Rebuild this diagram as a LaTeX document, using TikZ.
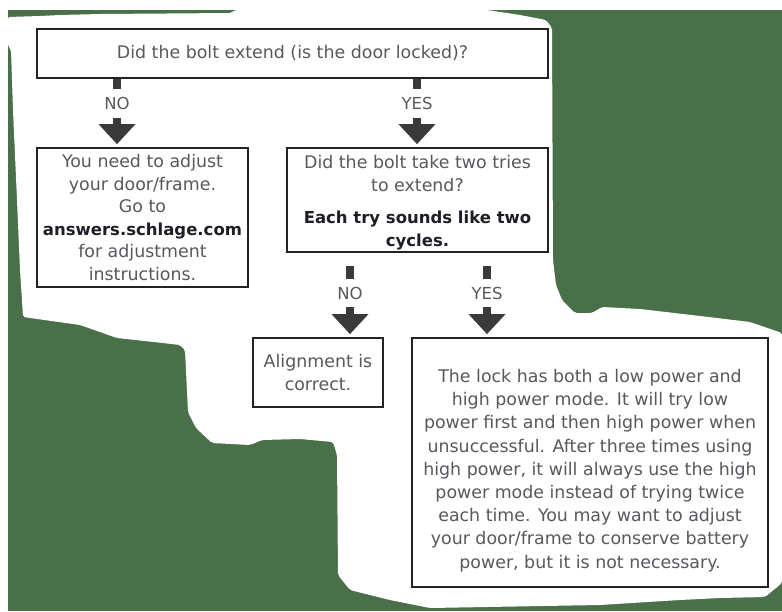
\documentclass[tikz,border=0pt]{standalone}
\usepackage{fontspec}
\setmainfont{DejaVu Sans}
\definecolor{bggreen}{RGB}{74,112,74}
\definecolor{txtgray}{RGB}{88,88,94}
\definecolor{darktxt}{RGB}{30,30,38}
\definecolor{arrowgray}{RGB}{58,58,58}
\definecolor{boxline}{RGB}{35,35,35}
\newcommand{\boldline}[1]{{\fontsize{16.5}{22.5}\selectfont\color{darktxt}\bfseries #1}}
\begin{document}
\begin{tikzpicture}[x=1pt,y=-1pt,
  box/.style={draw=boxline, line width=1.8pt, fill=white, align=center, inner sep=0pt,
    text=txtgray, font=\fontsize{17.4}{22.5}\selectfont},
  lbl/.style={text=txtgray, font=\fontsize{16.5}{16}\selectfont, inner sep=0pt},
  stem/.style={draw=arrowgray, line width=7.5pt},
  head/.style={fill=arrowgray, draw=none}]
\useasboundingbox (0,0) rectangle (782,611);
% background
\fill[white] (0,0) rectangle (782,611);
\fill[bggreen] (8,10) rectangle (782,611);
\fill[white, rounded corners=2pt] (8,17) -- (40,16) -- (60,15) -- (100,14) -- (232,13) -- (234,10)
  -- (487,10) -- (520,15) -- (546,20) -- (552,28) -- (553,260) -- (556,285) -- (562,300)
  -- (575,313) -- (592,313) -- (602,307) -- (640,309) -- (700,316) -- (750,322) -- (782,333)
  -- (782,583) -- (765,597) -- (720,598) -- (680,600) -- (600,605) -- (430,608) -- (390,600)
  -- (350,590) -- (338,575) -- (337,455) -- (333,442) -- (300,439) -- (262,440) -- (250,445)
  -- (212,443) -- (196,428) -- (188,412) -- (185,350) -- (180,345) -- (163,343) -- (117,338)
  -- (80,325) -- (23,317) -- (22,300) -- (20,270) -- (17,200) -- (13,110) -- (11,50) -- (8,46) -- cycle;

% boxes
\node[box, minimum width=511pt, minimum height=49pt] (q1) at (292.5,53.5)
  {Did the bolt extend (is the door locked)?};
\node[box, minimum width=211pt, minimum height=139pt] (adj) at (142.5,217.5)
  {You need to adjust\\your door/frame.\\Go to\\\boldline{answers.schlage.com}\\for adjustment\\instructions.};
\node[box, minimum width=261pt, minimum height=104pt] (q2) at (417.5,200)
  {\parbox{255pt}{\centering\vspace*{5pt}Did the bolt take two tries\\to extend?\\[10pt]\boldline{Each try sounds like two}\\\boldline{cycles.}}};
\node[box, minimum width=130pt, minimum height=69pt] (ok) at (318,372.5)
  {Alignment is\\correct.};
\node[box, minimum width=356pt, minimum height=249pt] (info) at (590,462.5)
  {\parbox{350pt}{\centering\fontsize{17.4}{23.2}\selectfont\vspace*{16pt}%
  The lock has both a low power and\\high power mode. It will try low\\power first and then high power when\\unsuccessful. After three times using\\high power, it will always use the high\\power mode instead of trying twice\\each time. You may want to adjust\\your door/frame to conserve battery\\power, but it is not necessary.}};

% labels
\node[lbl] (no1) at (117,103) {NO};
\node[lbl] (yes1) at (417,103) {YES};
\node[lbl] (no2) at (350,293) {NO};
\node[lbl] (yes2) at (487,293) {YES};

% connectors: q1 -> adj (NO)
\coordinate (a1s) at (q1.south -| no1);
\coordinate (a1t) at (adj.north -| no1);
\draw[stem] (a1s) -- ([yshift=-10pt]a1s);
\draw[stem] ([yshift=-9pt]no1.south) -- ([yshift=22pt]a1t);
\fill[head] ([shift={(-18.5pt,23pt)}]a1t) -- ([shift={(18.5pt,23pt)}]a1t) -- ([yshift=3pt]a1t) -- cycle;

% q1 -> q2 (YES)
\coordinate (a2s) at (q1.south -| yes1);
\coordinate (a2t) at (q2.north -| yes1);
\draw[stem] (a2s) -- ([yshift=-10pt]a2s);
\draw[stem] ([yshift=-9pt]yes1.south) -- ([yshift=22pt]a2t);
\fill[head] ([shift={(-18.5pt,23pt)}]a2t) -- ([shift={(18.5pt,23pt)}]a2t) -- ([yshift=3pt]a2t) -- cycle;

% q2 -> ok (NO)
\coordinate (a3s) at (q2.south -| no2);
\coordinate (a3t) at (ok.north -| no2);
\draw[stem] ([yshift=-13pt]a3s) -- ([yshift=-26pt]a3s);
\draw[stem] ([yshift=-8pt]no2.south) -- ([yshift=22pt]a3t);
\fill[head] ([shift={(-18.5pt,23pt)}]a3t) -- ([shift={(18.5pt,23pt)}]a3t) -- ([yshift=3pt]a3t) -- cycle;

% q2 -> info (YES)
\coordinate (a4s) at (q2.south -| yes2);
\coordinate (a4t) at (info.north -| yes2);
\draw[stem] ([yshift=-13pt]a4s) -- ([yshift=-26pt]a4s);
\draw[stem] ([yshift=-8pt]yes2.south) -- ([yshift=22pt]a4t);
\fill[head] ([shift={(-18.5pt,23pt)}]a4t) -- ([shift={(18.5pt,23pt)}]a4t) -- ([yshift=3pt]a4t) -- cycle;
\end{tikzpicture}
\end{document}
